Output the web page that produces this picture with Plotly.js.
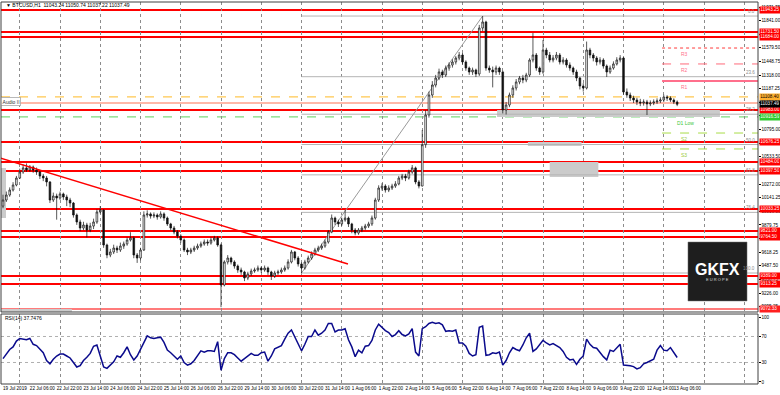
<!DOCTYPE html>
<html>
<head>
<meta charset="utf-8">
<script src="https://cdn.plot.ly/plotly-3.0.1.min.js"></script>
<style>html,body{margin:0;padding:0;background:#fff;}#chart{width:780px;height:395px;}</style>
</head>
<body>
<div id="chart"></div>
<script>
// ---- DATA (2-hour candles, BTCUSD) ----
const firstOpen = 10060;
const closes = [
10119,10167,10215,10263,10330,10388,10427,10407,10436,10407,
10388,10349,10330,10292,10119,10157,10138,10177,10148,10119,
10090,9975,9908,9850,9879,9831,9869,9908,10004,10023,
9687,9591,9620,9658,9639,9677,9697,9735,9754,9591,
9562,9639,9975,9985,9965,9975,9956,9985,9946,9889,
9850,9812,9773,9735,9639,9620,9639,9658,9677,9697,
9716,9706,9735,9754,9687,9303,9524,9562,9524,9485,
9447,9428,9370,9409,9437,9447,9466,9447,9466,9428,
9389,9418,9428,9447,9466,9524,9620,9562,9505,9466,
9524,9562,9601,9639,9658,9677,9716,9812,9946,9908,
9889,9927,9946,9889,9831,9802,9831,9850,9869,9889,
9946,10119,10234,10253,10215,10234,10253,10273,10330,10349,
10330,10388,10427,10292,10253,10650,10935,11127,11223,11290,
11348,11319,11386,11415,11444,11482,11511,11444,11386,11348,
11367,11329,11770,11828,11386,11367,11348,11386,11348,10983,
11031,11127,11194,11252,11290,11271,11319,11463,11511,11386,
11348,11559,11511,11463,11482,11511,11444,11463,11415,11386,
11348,11290,11213,11194,11559,11511,11482,11444,11463,11405,
11348,11386,11425,11463,11482,11156,11127,11098,11079,11060,
11050,11060,11041,11050,11060,11069,11079,11108,11098,11079,
11060,11037.49];
const highs = [
10170,10200,10240,10290,10350,10420,10460,10470,10455,10450,
10430,10400,10370,10350,10300,10190,10180,10200,10190,10170,
10140,10100,9990,9930,9910,9900,9900,9940,10030,10060,
10030,9700,9650,9690,9680,9710,9720,9760,9810,9770,
9610,9660,10010,10020,10000,10000,9990,10010,10000,9960,
9900,9870,9830,9790,9750,9660,9660,9680,9700,9720,
9740,9740,9760,9775,9770,9700,9540,9590,9575,9540,
9500,9470,9440,9430,9460,9470,9490,9480,9490,9480,
9440,9440,9450,9470,9490,9550,9640,9630,9580,9520,
9545,9585,9625,9660,9680,9700,9740,9830,9980,9960,
9930,9950,10023,9960,9900,9850,9850,9870,9890,9910,
9970,10140,10260,10280,10270,10260,10275,10300,10350,10370,
10370,10410,10455,10440,10310,10790,10980,11160,11260,11320,
11380,11370,11410,11440,11470,11500,11540,11530,11460,11400,
11390,11380,11800,11885,11840,11410,11400,11410,11400,11360,
11060,11150,11220,11280,11310,11320,11340,11480,11722,11530,
11400,11655,11580,11540,11510,11540,11530,11490,11480,11440,
11400,11370,11300,11240,11640,11580,11530,11500,11490,11480,
11420,11410,11450,11490,11510,11490,11190,11150,11120,11100,
11090,11085,11080,11075,11085,11095,11105,11130,11125,11115,
11095,11075];
const lows = [
10040,10100,10150,10200,10250,10320,10370,10390,10390,10380,
10360,10320,10300,10250,10090,10100,9930,10120,10120,10060,
10050,9950,9880,9820,9830,9760,9810,9840,9890,9990,
9660,9560,9570,9600,9610,9620,9650,9680,9720,9560,
9515,9540,9630,9950,9940,9945,9930,9940,9920,9870,
9830,9790,9750,9710,9620,9590,9600,9620,9640,9660,
9680,9680,9690,9720,9670,9090,9290,9500,9500,9460,
9420,9400,9340,9350,9390,9420,9430,9420,9430,9400,
9351,9370,9400,9410,9430,9450,9510,9540,9480,9418,
9450,9510,9545,9585,9620,9640,9660,9700,9800,9880,
9860,9870,9910,9860,9800,9780,9785,9810,9830,9850,
9870,9930,10100,10210,10190,10195,10215,10235,10260,10310,
10300,10315,10370,10270,10230,10250,10620,10910,11100,11200,
11270,11290,11300,11360,11390,11420,11460,11420,11360,11320,
11320,11300,11310,11740,11360,11340,11200,11320,11320,10950,
10940,11010,11100,11170,11230,11240,11250,11300,11440,11360,
11320,11330,11480,11440,11440,11460,11420,11420,11390,11360,
11320,11260,11180,11160,11180,11480,11450,11410,11420,11380,
11300,11330,11370,11410,11440,11130,11100,11070,11050,11030,
11020,11025,10935,11020,11030,11040,11050,11060,11070,11060,
11040,11020];
const rsi = [
36,43,50,54,63,67,66,65,67,58,
56,50,45,33,28,35,40,43,43,40,
37,30,23,25,33,38,44,55,57,40,
23,21,26,31,40,38,45,54,42,34,
40,50,62,71,68,67,68,69,61,49,
45,40,35,40,30,26,28,33,40,48,
46,48,48,47,62,18,36,45,45,42,
37,32,36,40,44,41,41,45,46,32,
40,51,53,56,66,75,80,70,60,48,
58,70,70,80,72,75,80,90,90,77,
80,80,82,65,54,39,49,45,55,56,
64,80,89,84,79,76,70,73,79,73,
71,74,82,46,40,82,85,90,92,90,
91,88,78,79,78,80,60,60,55,44,
40,42,84,86,41,42,45,44,46,26,
33,45,53,50,48,57,68,75,47,51,
58,64,60,57,59,56,53,47,38,34,
35,27,35,40,66,58,53,52,45,39,
34,49,47,52,58,26,26,25,23.6,20,
22,28,30,32,35,49,56,49,48,53,
45,37.7476];

const xLabelHours = [0,16,32,48,64,80,96,112,128,144,160,176,192,208,224,240,256,272,288,304,320,336,352,368,384,400];
const xLabels = ["19 Jul 2019","22 Jul 06:00","22 Jul 22:00","23 Jul 14:00","24 Jul 06:00","24 Jul 22:00","25 Jul 14:00","26 Jul 06:00","26 Jul 22:00","29 Jul 14:00","30 Jul 06:00","30 Jul 22:00","31 Jul 14:00","1 Aug 06:00","1 Aug 22:00","2 Aug 14:00","5 Aug 06:00","5 Aug 22:00","6 Aug 14:00","7 Aug 06:00","7 Aug 22:00","8 Aug 14:00","9 Aug 06:00","9 Aug 22:00","12 Aug 14:00","13 Aug 06:00"];
const priceTicks = [11971.75,11841.00,11710.25,11579.50,11448.75,11318.00,11187.25,11056.50,10925.75,10795.00,10664.25,10533.50,10402.75,10272.00,10141.25,10010.50,9879.75,9749.00,9618.25,9487.50,9356.75,9226.00,9095.25];

const redLevels = [11943.25,11731.50,11684.00,10983.00,10676.25,10484.00,10397.50,10033.25,9821.00,9764.50,9389.00,9313.25];
const faintRedLevel = 9072.33;
const yellowLevel = 11108.40, salmonLevel = 11050.60, d1Low = 10916.59, lastPrice = 11037.49;
const pivotNames = ["R3","R2","R1","S2","S3"];
const pivotLevels = [11578,11425,11261,10762,10609];
const pivotStartHour = 393;
const fibLowHour = 178, fibLowPrice = 9418, fibHighHour = 286, fibHighPrice = 11885;
const fibPct = [0,23.6,38.2,50,61.8,76.4,100];
const fibNames = ["0.0","23.6","38.2","50.0","61.8","76.4","100.0"];
const trend = {h0:-1.8, p0:10522, h1:205.7, p1:9505};
const zones = [
  {h0:-1.19,h1:1.8,p0:9946,p1:10426},
  {h0:313,h1:345,p0:10637,p1:10676},
  {h0:326,h1:355,p0:10340,p1:10484},
  {h0:294.6,h1:427.5,p0:10916,p1:10983},
  {h0:-1.19,h1:41.1,p0:9046,p1:9073}
];
const header = "\u25BC BTCUSD,H1  11043.24 11050.74 11037.22 11037.49";
const rsiTitle = "RSI(14) 37.7476";

// ---- BUILD ----
const hours = closes.map((_, k) => 2 * k);
const opens = closes.map((c, k) => k === 0 ? firstOpen : closes[k - 1]);
const XR = [-1.19, 450.2];
const mainDom = [0.1885, 1], rsiDom = [0, 0.1832];

const candle = {
  type: 'candlestick', x: hours, open: opens, high: highs, low: lows, close: closes,
  xaxis: 'x', yaxis: 'y', hoverinfo: 'skip',
  increasing: {line: {color: '#111', width: 0.7}, fillcolor: '#ffffff'},
  decreasing: {line: {color: '#111', width: 0.7}, fillcolor: '#111111'},
  whiskerwidth: 0
};
const rsiTrace = {
  type: 'scatter', mode: 'lines', x: hours, y: rsi, xaxis: 'x', yaxis: 'y2',
  line: {color: '#0a0a8c', width: 1.5}, hoverinfo: 'skip'
};

const shapes = [];
const ann = [];
const F = 'Liberation Sans, Arial, sans-serif';

zones.forEach(z => shapes.push({type:'rect', xref:'x', yref:'y', x0:z.h0, x1:z.h1, y0:z.p0, y1:z.p1, fillcolor:'#cbcbcb', line:{width:0}, layer:'between'}));

// fib
fibPct.forEach((p, i) => {
  const price = fibHighPrice - (fibHighPrice - fibLowPrice) * p / 100;
  shapes.push({type:'line', xref:'x', yref:'y', x0:fibLowHour, x1:XR[1], y0:price, y1:price, line:{color:'#b4b4b4', width:1}, layer:'between'});
  ann.push({xref:'x', yref:'y', x:XR[1]-0.8, y:price, text:fibNames[i], showarrow:false, xanchor:'right', yanchor:'bottom', font:{family:F, size:4.5, color:'#8a8a8a'}});
});
shapes.push({type:'line', xref:'x', yref:'y', x0:fibLowHour, y0:fibLowPrice, x1:fibHighHour, y1:fibHighPrice, line:{color:'#9a9a9a', width:1}, layer:'between'});

// full-width levels
shapes.push({type:'line', xref:'paper', yref:'y', x0:0, x1:1, y0:yellowLevel, y1:yellowLevel, line:{color:'#ffc850', width:1.2, dash:'dash'}, layer:'between'});
shapes.push({type:'line', xref:'paper', yref:'y', x0:0, x1:1, y0:salmonLevel, y1:salmonLevel, line:{color:'#ffb8a8', width:2}, layer:'between'});
shapes.push({type:'line', xref:'paper', yref:'y', x0:0, x1:1, y0:d1Low, y1:d1Low, line:{color:'#7ddc7d', width:1.2, dash:'dash'}, layer:'between'});
redLevels.forEach(p => shapes.push({type:'line', xref:'paper', yref:'y', x0:0, x1:1, y0:p, y1:p, line:{color:'#ff0000', width:2}, layer:'between'}));
shapes.push({type:'line', xref:'paper', yref:'y', x0:0, x1:1, y0:faintRedLevel, y1:faintRedLevel, line:{color:'#ff7b7b', width:2}, layer:'between'});

// trend line
shapes.push({type:'line', xref:'x', yref:'y', x0:trend.h0, y0:trend.p0, x1:trend.h1, y1:trend.p1, line:{color:'#ff0000', width:1.5}, layer:'above'});

// pivots
const pivStyle = [
  {color:'#ff3b3b', dash:'dot', width:1},
  {color:'#ff6a7a', dash:'dash', width:1},
  {color:'#ff6f8c', dash:'solid', width:2},
  {color:'#a8dc48', dash:'dash', width:1},
  {color:'#a8dc48', dash:'dash', width:1}
];
pivotLevels.forEach((p, i) => {
  shapes.push({type:'line', xref:'x', yref:'y', x0:pivotStartHour, x1:XR[1], y0:p, y1:p, line:pivStyle[i], layer:'between'});
  ann.push({xref:'x', yref:'y', x:pivotStartHour + 10, y:p, text:pivotNames[i], showarrow:false, xanchor:'left', yanchor:'top', yshift:-1, font:{family:F, size:5, color:i<3?'#ff6f8c':'#9acb3a'}});
});
ann.push({xref:'x', yref:'y', x:pivotStartHour + 8, y:d1Low, text:'D1 Low', showarrow:false, xanchor:'left', yanchor:'top', yshift:-1, font:{family:F, size:5, color:'#3cc83c'}});

// RSI levels
[30, 70].forEach(v => shapes.push({type:'line', xref:'paper', yref:'y2', x0:0, x1:1, y0:v, y1:v, line:{color:'#b0b0b0', width:1, dash:'dot'}, layer:'between'}));

// panel borders
shapes.push({type:'rect', xref:'paper', yref:'paper', x0:0, x1:1, y0:mainDom[0], y1:mainDom[1], line:{color:'#404040', width:1}, fillcolor:'rgba(0,0,0,0)', layer:'above'});
shapes.push({type:'rect', xref:'paper', yref:'paper', x0:0, x1:1, y0:rsiDom[0], y1:rsiDom[1], line:{color:'#404040', width:1}, fillcolor:'rgba(0,0,0,0)', layer:'above'});

// logo
shapes.push({type:'rect', xref:'paper', yref:'paper', x0:0.9075, x1:0.9855, y0:0.2173, y1:0.3717, fillcolor:'#1e1e1e', line:{color:'#777', width:0.5}, layer:'above'});
ann.push({xref:'paper', yref:'paper', x:0.9465, y:0.2985, text:'<b>GKFX</b>', showarrow:false, xanchor:'center', yanchor:'middle', font:{family:F, size:16, color:'#ffffff'}});
ann.push({xref:'paper', yref:'paper', x:0.9465, y:0.2735, text:'E U R O P E', showarrow:false, xanchor:'center', yanchor:'middle', font:{family:F, size:4, color:'#dddddd'}});

// right axis price labels
const lab = (p, bg, fg, txt) => ann.push({xref:'paper', yref:'y', x:1, xshift:0.5, y:p, text:txt || p.toFixed(2), showarrow:false, xanchor:'left', yanchor:'middle', bgcolor:bg, borderpad:0.3, width:19, align:'left', font:{family:F, size:4.6, color:fg}});
redLevels.forEach(p => lab(p, '#ff0000', '#ffffff'));
lab(faintRedLevel, '#ff2020', '#ffffff');
lab(yellowLevel, '#ffb030', '#000000');
lab(lastPrice, '#000000', '#ffffff');
lab(d1Low, '#2ecc2e', '#ffffff');

// texts
ann.push({xref:'paper', yref:'paper', x:0.004, y:0.992, text:header, showarrow:false, xanchor:'left', yanchor:'middle', font:{family:F, size:5, color:'#000'}});
ann.push({xref:'paper', yref:'paper', x:0.003, y:0.1728, text:rsiTitle, showarrow:false, xanchor:'left', yanchor:'middle', font:{family:F, size:5, color:'#000'}});
ann.push({xref:'paper', yref:'y', x:0, y:11065, text:'Audio II', showarrow:false, xanchor:'left', yanchor:'middle', bgcolor:'#ffffff', bordercolor:'#8a8a8a', borderwidth:0.6, borderpad:1, font:{family:F, size:5, color:'#333'}});

const layout = {
  width: 780, height: 395, margin: {l:1, r:22, t:2, b:11},
  paper_bgcolor: '#ffffff', plot_bgcolor: '#ffffff', showlegend: false,
  font: {family: F, size: 5, color: '#000'},
  xaxis: {
    range: XR, anchor: 'y2', rangeslider: {visible: false},
    tickmode: 'array', tickvals: xLabelHours, ticktext: xLabels, tickangle: 0,
    ticklabelposition: 'outside right', ticks: '', showgrid: false, zeroline: false, showline: false,
    tickfont: {family: F, size: 4.6, color: '#000'},
    minor: {tickmode: 'linear', tick0: 10, dtick: 24, showgrid: true, gridcolor: '#8c8c8c', griddash: 'dot', gridwidth: 1, ticks: ''}
  },
  yaxis: {
    domain: mainDom, range: [9043.8, 12019.8], side: 'right', anchor: 'x',
    tickmode: 'array', tickvals: priceTicks, ticktext: priceTicks.map(v => v.toFixed(2)),
    ticks: 'outside', ticklen: 1.5, tickcolor: '#000', showgrid: false, zeroline: false, showline: false,
    tickfont: {family: F, size: 4.6, color: '#000'}
  },
  yaxis2: {
    domain: rsiDom, range: [-3.1, 104.6], side: 'right', anchor: 'x',
    tickmode: 'array', tickvals: [0, 30, 70, 100], ticktext: ['0', '30', '70', '100'],
    ticks: 'outside', ticklen: 1.5, tickcolor: '#000', showgrid: false, zeroline: false, showline: false,
    tickfont: {family: F, size: 4.6, color: '#000'}
  },
  shapes: shapes, annotations: ann
};

Plotly.newPlot('chart', [candle, rsiTrace], layout, {staticPlot: true, displayModeBar: false});
</script>
</body>
</html>
